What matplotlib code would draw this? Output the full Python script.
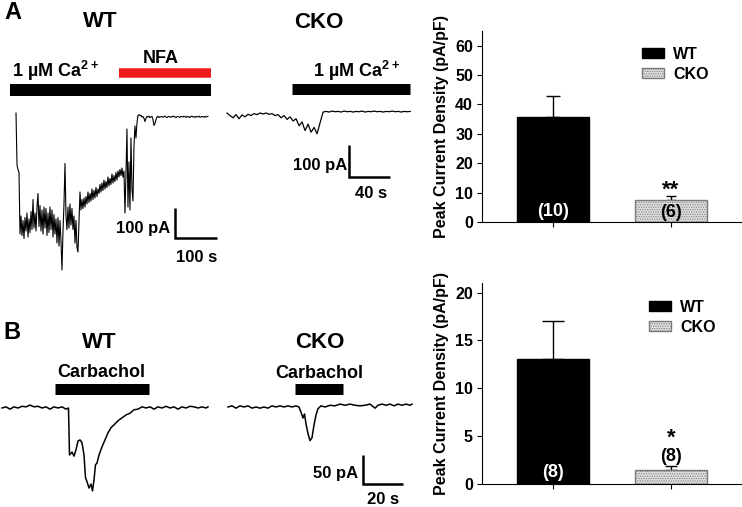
import matplotlib.pyplot as plt
import matplotlib.transforms as mtransforms
import numpy as np

plt.rcParams['font.family'] = ['Liberation Sans', 'DejaVu Sans']
plt.rcParams['font.weight'] = 'bold'
plt.rcParams['mathtext.fontset'] = 'custom'
plt.rcParams['mathtext.rm'] = 'Liberation Sans:bold'
plt.rcParams['mathtext.bf'] = 'Liberation Sans:bold'
plt.rcParams['hatch.linewidth'] = 0.5

# ---- bar chart data (pA/pF) ----
groups = ['WT', 'CKO']
ca_density = [35.6, 7.4]
ca_sem = [7.4, 1.3]
ca_n = ['(10)', '(6)']
ca_sig = '**'
cch_density = [13.05, 1.47]
cch_sem = [3.95, 0.4]
cch_n = ['(8)', '(8)']
cch_sig = '*'

# ---- example traces ----
# WT, 1 uM Ca2+ then NFA (pA, one sample every wt_ca_dt s)
wt_ca_t0 = 14.3
wt_ca_dt = 2.38
wt_ca_current = [
    13, -160, -175, -185, -390, -330, -395, -345, -405, -335,
    -380, -320, -400, -340, -385, -315, -375, -275, -370, -320,
    -380, -300, -255, -365, -295, -380, -310, -390, -300, -370,
    -305, -395, -320, -385, -300, -375, -310, -400, -325, -390,
    -340, -420, -335, -430, -345, -415, -510, -380, -290, -155,
    -330, -375, -300, -370, -290, -360, -305, -375, -330, -420,
    -345, -435, -450, -350, -250, -310, -275, -305, -270, -300,
    -265, -290, -250, -285, -255, -280, -240, -275, -245, -270,
    -235, -265, -240, -255, -225, -250, -220, -245, -210, -240,
    -215, -235, -200, -230, -205, -225, -190, -220, -195, -215,
    -185, -210, -180, -200, -175, -195, -170, -200, -180, -320,
    -190, -40, -300, -150, -310, -70, -240, -280, -100, -30,
    -70, -20, 5, 8, 4, 6, 0, 2, -4, -15,
    -5, 2, 0, 3, -2, 0, 2, -8, -28, -22,
    -10, 0, 2, -2, 1, 0, 2, -1, 1, 3,
    0, -2, 1, 2, 0, -1, 2, 1, 3, 0,
    -2, 1, 2, 0, -1, 2, 1, 0, 3, 1,
    -1, 2, 0, 1, -2, 2, 3, 0, 1, -1,
    2, 0, 1, 3, -1, 0, 2, 1, -1, 2,
    0, 1, 2,
]
wt_ca_on = (0, 478)
wt_nfa_on = (260, 478)

# CKO, 1 uM Ca2+
cko_ca_t0 = 0.0
cko_ca_dt = 2.93
cko_ca_current = [
    0, -8, -15, -5, -18, -6, -12, -4, -8, -2,
    -5, 0, -3, 0, -4, -2, -8, -5, -15, -8,
    -20, -12, -25, -18, -40, -28, -55, -35, -60, -45,
    -65, -30, 3, 5, 3, 6, 4, 5, 3, 6,
    4, 5, 3, 5, 4, 6, 3, 5, 4, 6,
    4, 5, 3, 5, 4, 6, 4, 5, 3, 5,
    4, 5,
]
cko_ca_on = (63, 179)

# WT, carbachol
wt_cch_time = [
    0, 2, 4, 6, 8, 10, 12, 14, 16, 18,
    20, 22, 24, 26, 28, 30, 32, 33.25, 33.75, 35,
    36, 37, 38, 39, 40, 41, 41.75, 42.5, 43.5, 44.5,
    45.25, 46, 46.75, 47.5, 48.5, 50, 51.5, 53, 54.5, 56,
    58, 60, 62, 64, 66, 68, 70, 72, 74, 76,
    78, 80, 82, 84, 86, 88, 90, 92, 94, 96,
    98, 100, 102, 103,
]
wt_cch_current = [
    0, 2, -2, 2, 0, 3, 2, 5, 2, 3,
    0, 2, -2, 2, 0, 2, -2, 0, -81, -76,
    -83, -72, -57, -55, -60, -81, -120, -127, -138, -131,
    -143, -124, -98, -95, -81, -67, -55, -43, -34, -29,
    -22, -17, -12, -9, -3, -2, 2, 0, 2, -2,
    2, 0, 3, 0, 2, -2, 2, 0, 3, 2,
    0, 2, 0, 2,
]
wt_cch_on = (26.5, 73.5)

# CKO, carbachol
cko_cch_time = [
    0, 2, 4, 6, 8, 10, 12, 14, 16, 18,
    20, 22, 24, 26, 28, 30, 32, 34, 35.5, 36.5,
    37.5, 38.25, 39, 40, 41, 42, 43, 44, 45, 46.5,
    48.5, 51, 53.5, 56, 58.5, 61, 63.5, 66, 68.5, 71,
    73.5, 75, 77, 79, 81, 83, 85, 87, 89, 91,
    92,
]
cko_cch_current = [
    0, 2, -2, 2, 0, 2, -2, 0, -2, 0,
    -2, 2, 0, 2, 0, 2, 0, 2, 0, -9,
    -19, -12, -29, -46, -58, -53, -31, -14, -3, 2,
    0, 3, 2, 5, 3, 5, 3, 2, 3, 5,
    -2, 3, 5, 3, 5, 2, 5, 3, 5, 3,
    5,
]
cko_cch_on = (33.5, 57.5)

W, H = 742, 507
fig = plt.figure(figsize=(W / 100, H / 100), dpi=100)


def trace_axes(x0, s_per_px, y0, pa_per_px):
    # full-figure axes where t=0 sits at pixel x0 and I=0 at pixel y0
    ax = fig.add_axes([0, 0, 1, 1])
    ax.set_xlim(-x0 * s_per_px, (W - x0) * s_per_px)
    ax.set_ylim((y0 - H) * pa_per_px, y0 * pa_per_px)
    ax.axis('off')
    return ax


def drug_bar(ax, span, ypx, thick, color='black'):
    trans = mtransforms.blended_transform_factory(ax.transData, fig.transFigure)
    ax.plot(span, [1 - ypx / H] * 2, transform=trans, color=color,
            lw=thick * 0.72, solid_capstyle='butt')


def scale_bar(ax, t, i, dt, di):
    ax.plot([t, t, t + dt], [i + di, i, i], color='black', lw=1.8,
            solid_joinstyle='miter', solid_capstyle='butt')


def label(x, y, s, size, ha='center'):
    fig.text(x / W, 1 - y / H, s, fontsize=size, ha=ha, va='baseline',
             fontweight='bold')


ca_label = r'1 µM Ca$^{\mathbf{2+}}$'

# panel A, WT
ax = trace_axes(10, 100 / 42, 117, 100 / 30)
t = wt_ca_t0 + wt_ca_dt * np.arange(len(wt_ca_current))
ax.plot(t, wt_ca_current, color='black', lw=0.8)
drug_bar(ax, wt_ca_on, 89.5, 12)
drug_bar(ax, wt_nfa_on, 72.5, 9.5, '#f01a1a')
scale_bar(ax, 393, -403, 100, 100)

# panel A, CKO
ax = trace_axes(227, 40 / 41, 113, 100 / 32)
t = cko_ca_t0 + cko_ca_dt * np.arange(len(cko_ca_current))
ax.plot(t, cko_ca_current, color='black', lw=0.9)
drug_bar(ax, cko_ca_on, 88.5, 11)
scale_bar(ax, 119, -200, 40, 100)

# panel B, WT
ax = trace_axes(2, 0.5, 408, 50 / 29)
ax.plot(wt_cch_time, wt_cch_current, color='black', lw=1.1)
drug_bar(ax, wt_cch_on, 388.5, 11)

# panel B, CKO
ax = trace_axes(228, 0.5, 407, 50 / 29)
ax.plot(cko_cch_time, cko_cch_current, color='black', lw=1.1)
drug_bar(ax, cko_cch_on, 388.5, 11)
scale_bar(ax, 67.5, -132, 20, 50)

# texts of the trace panels
label(4, 19, 'A', 17, ha='left')
label(3, 339, 'B', 17, ha='left')
label(100, 27, 'WT', 16)
label(319, 28, 'CKO', 16)
label(99, 348, 'WT', 16)
label(320, 348, 'CKO', 16)
label(12, 77, ca_label, 13, ha='left')
label(313, 77, ca_label, 13, ha='left')
label(161, 63, 'NFA', 13)
label(101, 377, 'Carbachol', 13)
label(319, 378, 'Carbachol', 13)
label(170, 233, '100 pA', 12, ha='right')
label(176, 262, '100 s', 12, ha='left')
label(347, 170, '100 pA', 12, ha='right')
label(355, 198, '40 s', 12, ha='left')
label(358, 478, '50 pA', 12, ha='right')
label(367, 504, '20 s', 12, ha='left')


def bar_panel(box, vals, errs, ns, n_y, sig, sig_y, ylim, yticks, caps, leg_xy):
    l, t, r, b = box
    ax = fig.add_axes([l / W, 1 - b / H, (r - l) / W, (b - t) / H])
    x = np.arange(len(groups))
    bars = ax.bar(x, vals, width=0.61, color=['black', '#dcdcdc'],
                  edgecolor=['black', '#7a7a7a'], linewidth=1, zorder=2,
                  label=groups)
    bars[1].set_hatch('.......')
    for xi, v, e, c in zip(x, vals, errs, caps):
        ax.errorbar(xi, v, yerr=[[0], [e]], fmt='none', ecolor='black',
                    elinewidth=1, capsize=c, capthick=1, zorder=1)
    ax.text(0, n_y[0], ns[0], color='white', ha='center', va='center',
            fontsize=13, fontweight='bold', zorder=3)
    ax.text(1, n_y[1], ns[1], color='black', ha='center', va='center',
            fontsize=13, fontweight='bold', zorder=3)
    ax.text(1, sig_y, sig, ha='center', va='baseline', fontsize=16,
            fontweight='bold')
    ax.set_xlim(-0.602, 1.593)
    ax.set_ylim(*ylim)
    ax.set_yticks(yticks)
    ax.set_xticks(x)
    ax.set_xticklabels([])
    for side in ['top', 'right']:
        ax.spines[side].set_visible(False)
    for side in ['left', 'bottom']:
        ax.spines[side].set_linewidth(0.8)
    ax.tick_params(direction='out', length=3.5, width=0.8, labelsize=11.5, pad=3)
    ax.set_ylabel('Peak Current Density (pA/pF)', fontsize=11.5,
                  fontweight='bold')
    ax.yaxis.set_label_coords(-0.127, 0.5)
    ax.legend(bars, groups, loc='upper left',
              bbox_to_anchor=(leg_xy[0] / W, 1 - leg_xy[1] / H),
              bbox_transform=fig.transFigure, frameon=False, fontsize=11.5,
              handlelength=1.35, handleheight=0.6, handletextpad=0.6,
              labelspacing=0.3, borderpad=0, borderaxespad=0)
    return ax


bar_panel((482, 31, 741, 222), ca_density, ca_sem, ca_n, [3.5, 3.1],
          ca_sig, 9.0, (0, 65), [0, 10, 20, 30, 40, 50, 60], [5.3, 3.6],
          (642, 47))
bar_panel((482, 283, 741, 484), cch_density, cch_sem, cch_n, [1.15, 2.9],
          cch_sig, 4.2, (0, 21), [0, 5, 10, 15, 20], [8, 4],
          (649, 300))

fig.savefig('out.png', dpi=100)
